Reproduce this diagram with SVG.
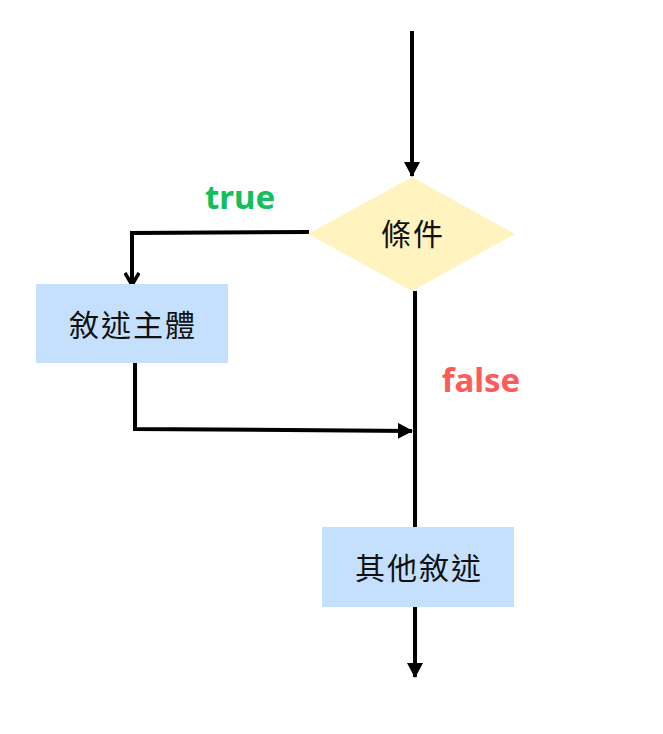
<svg xmlns="http://www.w3.org/2000/svg" width="663" height="734" viewBox="0 0 663 734">
<style>
.lbl{font-family:"Noto Sans CJK TC","Noto Sans",sans-serif;font-size:30px;letter-spacing:2px;fill:#111;text-anchor:middle;dominant-baseline:central}
.box{fill:#c5e0fc}
.ln{fill:none;stroke:#000;stroke-width:4}
.tag{font-family:"Noto Sans","Noto Sans CJK TC",sans-serif;font-size:33px;font-weight:bold;text-anchor:middle;dominant-baseline:central}
</style>
<defs>
<marker id="arr" viewBox="0 0 16 16" refX="14" refY="8" markerWidth="16" markerHeight="16" orient="auto" markerUnits="userSpaceOnUse"><path d="M0,0 L15,8 L0,16 z" fill="#000"/></marker>
<marker id="open" viewBox="0 0 16 16" refX="14" refY="8" markerWidth="16" markerHeight="16" orient="auto" markerUnits="userSpaceOnUse"><path d="M2,1 L14,8 L2,15" fill="none" stroke="#000" stroke-width="3.5"/></marker>
</defs>
<g id="connectors">
<line class="ln" x1="412" y1="31" x2="412" y2="176" marker-end="url(#arr)"/>
<polyline class="ln" points="309,232 132,233 132,285" marker-end="url(#open)"/>
<line class="ln" x1="415" y1="291" x2="415" y2="527"/>
<polyline class="ln" points="135,363 135,429 412,431" marker-end="url(#arr)"/>
<line class="ln" x1="415" y1="607" x2="415" y2="677" marker-end="url(#arr)"/>
<text class="tag" x="240" y="196" fill="#13bf5b">true</text>
<text class="tag" x="481" y="379" fill="#ff5a5a">false</text>
</g>
<g id="cond">
<polygon points="412,177 515,234 412,291 308,234" fill="#fff4c0"/>
<text class="lbl" x="413" y="232">條件</text>
</g>
<g id="body">
<rect class="box" x="36" y="284" width="192" height="79"/>
<text class="lbl" x="133" y="323">敘述主體</text>
</g>
<g id="other">
<rect class="box" x="322" y="527" width="192" height="80"/>
<text class="lbl" x="419" y="566">其他敘述</text>
</g>
</svg>
